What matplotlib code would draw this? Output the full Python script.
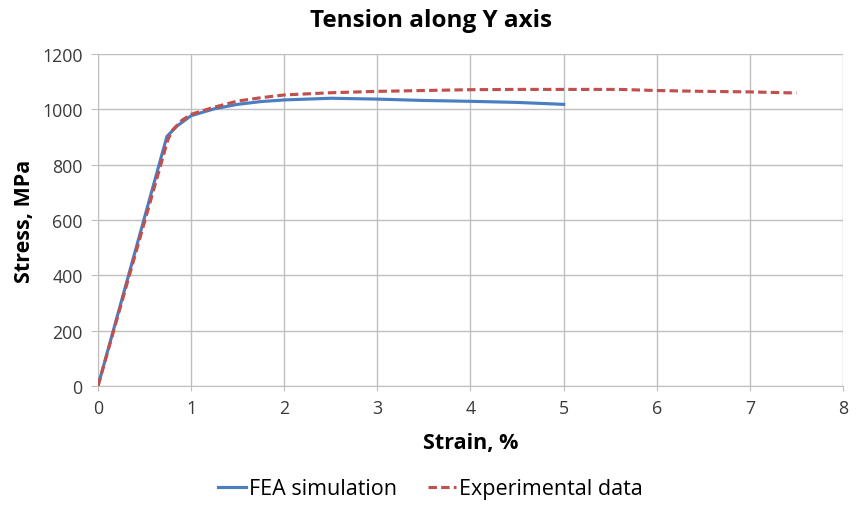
import matplotlib
matplotlib.use("Agg")
import matplotlib.pyplot as plt

fea_strain = [0, 0.74, 0.85, 1.0, 1.25, 1.5, 1.75, 2.0, 2.5, 3.0, 3.5, 4.0, 4.5, 5.0]
fea_stress = [0, 902, 940, 977, 1002, 1018, 1028, 1034, 1040, 1037, 1032, 1029, 1025, 1018]

exp_strain = [0, 0.75, 0.8, 0.9, 1.0, 1.25, 1.5, 1.75, 2.0, 2.5, 3.0, 3.5, 4.0, 4.5, 5.0, 5.6, 6.0, 6.5, 7.0, 7.5]
exp_stress = [0, 890, 925, 960, 982, 1008, 1030, 1042, 1052, 1060, 1065, 1068, 1071, 1072, 1072, 1072, 1068, 1065, 1063, 1059]

x_ticks = [0, 1, 2, 3, 4, 5, 6, 7, 8]
y_ticks = [0, 200, 400, 600, 800, 1000, 1200]

plt.rcParams['font.family'] = ['Open Sans', 'DejaVu Sans']

fig = plt.figure(figsize=(8.61, 5.06), dpi=100)
ax = fig.add_axes([0.1138, 0.2352, 0.8653, 0.6561])

grid_c = '#BFBFBF'
ax.plot(fea_strain, fea_stress, color='#4A7EC1', lw=2.25, label='FEA simulation', zorder=3)
ax.plot(exp_strain, exp_stress, color='#C0504D', lw=2.25, ls=(0, (2.7, 1.35)), label='Experimental data', zorder=4)

ax.set_xlim(0, 8)
ax.set_ylim(0, 1200)
ax.set_xticks(x_ticks)
ax.set_yticks(y_ticks)
ax.grid(True, color=grid_c, lw=1.0)
ax.set_axisbelow(True)
for s in ['top', 'right']:
    ax.spines[s].set_visible(False)
for s in ['left', 'bottom']:
    ax.spines[s].set_color(grid_c)
ax.tick_params(axis='both', colors=grid_c, labelcolor='#3A3A3A', labelsize=12.8)
ax.tick_params(axis='x', length=3.6, pad=6)
ax.tick_params(axis='y', length=5, pad=6)

ax.set_xlabel('Strain, %', fontsize=15.5, fontweight='bold', va='center')
ax.set_ylabel('Stress, MPa', fontsize=15.5, fontweight='bold', va='center')
ax.xaxis.set_label_coords(0.5, -0.169)
ax.yaxis.set_label_coords(-0.098, 0.5)
fig.text(0.5, 0.958, 'Tension along Y axis', ha='center', va='center', fontsize=17.5, fontweight='bold')

fig.legend(loc='center', bbox_to_anchor=(0.5, 0.032), ncol=2, frameon=False, fontsize=15.5,
           handlelength=1.3, handletextpad=0.15, columnspacing=1.45)

fig.savefig('out.png', dpi=100)
